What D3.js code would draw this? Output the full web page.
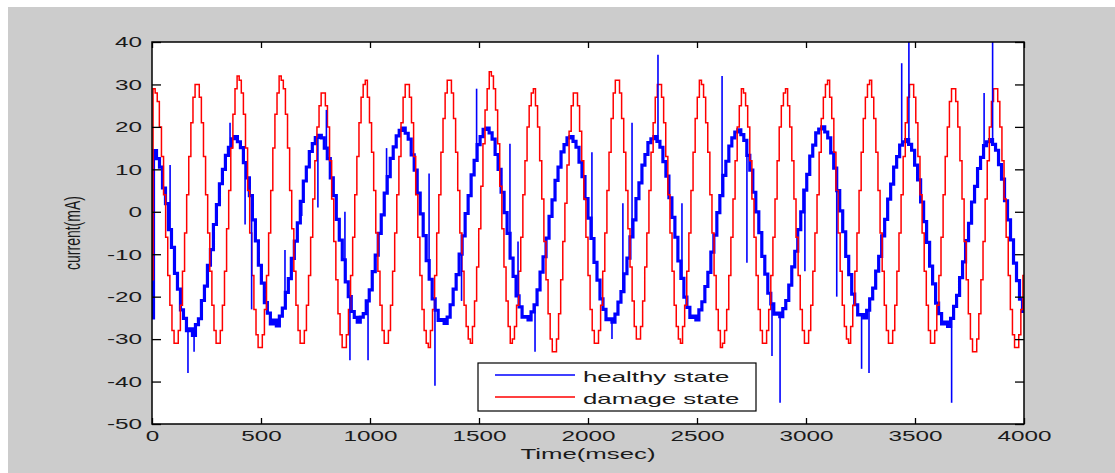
<!DOCTYPE html>
<html><head><meta charset="utf-8">
<script src="https://cdn.jsdelivr.net/npm/d3@7"></script>
<style>html,body{margin:0;padding:0;background:#fff;}svg{display:block;}</style>
</head><body><div id="chart"></div>
<script>
// ---- data ----
const xTicks = [0, 500, 1000, 1500, 2000, 2500, 3000, 3500, 4000];
const yTicks = [-50, -40, -30, -20, -10, 0, 10, 20, 30, 40];
const seriesNames = ["healthy state", "damage state"];

// damage state: stepped samples evenly spread over 0..4000 ms
const damage = [-16, 29,
 28,26,20,13,4,-6,-15,-22,-28,-31, -31,-28,-22,-14,-5,4,13,21,27,30,
 30,27,21,13,4,-5,-14,-22,-28,-31, -31,-28,-22,-14,-4,5,15,23,29,32,
 31,28,23,15,5,-5,-15,-23,-29,-32, -32,-29,-23,-15,-5,5,15,23,28,32,
 31,29,23,15,5,-4,-14,-22,-28,-31, -31,-28,-22,-15,-6,3,12,20,25,28,
 28,25,20,12,3,-7,-16,-24,-29,-32, -32,-29,-23,-15,-6,4,13,21,27,30,
 31,27,21,14,5,-5,-14,-22,-28,-31, -31,-28,-22,-14,-5,4,13,21,27,30,
 30,27,21,13,4,-6,-15,-23,-28,-31, -32,-28,-23,-15,-5,4,14,22,28,31,
 31,28,22,14,5,-5,-14,-22,-27,-30, -31,-27,-21,-13,-4,6,16,24,29,33,
 32,29,24,16,6,-4,-13,-21,-27,-31, -30,-27,-22,-14,-6,4,12,20,25,28,
 29,25,20,12,3,-7,-16,-24,-30,-33, -33,-30,-24,-16,-7,2,11,19,25,28,
 28,25,19,12,3,-6,-15,-23,-28,-31, -31,-28,-22,-14,-5,5,14,22,28,31,
 31,28,22,14,5,-4,-13,-21,-27,-30, -30,-27,-21,-13,-5,5,14,21,27,30,
 30,27,21,13,4,-5,-14,-22,-27,-30, -31,-27,-22,-14,-5,5,14,22,27,31,
 30,27,21,14,4,-5,-15,-23,-28,-32, -31,-28,-23,-15,-6,3,12,20,25,29,
 28,25,20,12,3,-6,-15,-23,-28,-31, -31,-28,-23,-15,-6,3,12,20,25,28,
 29,25,20,12,3,-6,-15,-23,-28,-31, -31,-28,-22,-14,-5,4,14,22,27,30,
 31,27,22,14,5,-5,-14,-22,-27,-30, -31,-27,-22,-14,-5,5,14,22,27,30,
 31,27,22,14,5,-5,-14,-22,-28,-31, -31,-28,-22,-14,-5,4,13,21,27,30,
 30,27,21,13,4,-5,-14,-22,-28,-31, -31,-28,-22,-15,-6,4,13,20,26,29,
 29,26,20,12,3,-7,-16,-24,-30,-33, -33,-30,-24,-16,-7,3,12,20,26,29,
 29,26,20,12,3,-6,-15,-23,-29,-32, -32,-29,-23,-15];

// healthy state: base curve, samples evenly spread over 0..4000 ms
const healthy = [-25,
 14.4,12.5,10.5,5.6,1.9,-4.2,-8.4,-14.5,-18.2,-23.1,-25.1,-28,-27.6,-29.1,-26.6,-25.2,-20.9,-17.5,-12.6,-8.9,-3,1.7,6.6,10,13.3,15.2,17.2,
 17.7,16.5,15.1,11.6,8,3.8,-1.9,-6.85,-12.6,-16.8,-21.4,-23.9,-26.4,-25.5,-26.9,-24.6,-22.7,-19,-15.75,-11,-6.9,-2.6,2.45,7.25,10.55,14.2,16.05,17.5,
 18,17.4,15,12.5,8,3.8,-1.8,-6.7,-11.3,-16.5,-20,-23.5,-24.9,-26,-24.8,-24,-21,-18.4,-14.1,-10.2,-5.1,-0.75,4.4,8.3,12.6,15.3,17.9,19.2,
 19.7,18.5,17.1,13.4,9.8,4.4,-0.5,-5.6,-11.5,-15.9,-20.5,-23.2,-25.6,-25.4,-26.3,-24.8,-21.9,-18.2,-14.8,-10,-5.7,-0.4,3.8,8.7,12.1,15.8,17.7,19.4,
 19.7,18.6,17.1,13.5,10,4.6,-0.2,-5.1,-10.9,-15.2,-19.8,-22.4,-24.8,-24.7,-25.5,-23.6,-21.9,-18.4,-14.2,-10.6,-6.2,-1.1,2.8,7.4,10.5,14.1,15.8,17.4,
 17.7,16.6,15.2,11.7,8.3,3.1,-1.5,-6.3,-11.9,-16.1,-20.5,-23,-25.4,-25.2,-26,-24.1,-21.3,-18.8,-14.6,-10.9,-5.9,-1.9,3.1,6.8,11,13.5,16.3,17.2,
 17.7,16.6,15.2,11.8,8.4,3.3,-1.3,-6,-11.6,-15.7,-20.1,-22.5,-24.9,-24.6,-25.5,-23.1,-21.2,-17.6,-14.3,-9.5,-5.5,-0.2,3.8,8.6,11.9,15.5,17.4,18.8,
 19.3,18.2,16.8,13.3,9.8,4.6,0,-4.9,-10.5,-14.7,-19.2,-21.7,-24.1,-23.9,-24.7,-22.8,-20.9,-17.3,-13,-9.3,-4.2,0,5.1,8.8,13.1,15.7,18.6,19.5,
 20,18.8,17.4,13.9,10.3,5,0.2,-4.7,-10.5,-14.8,-19.4,-21.9,-24.3,-24.2,-25,-23.2,-20.5,-18,-14,-10.5,-5.7,-1.8,3,6.5,10.5,13,15.7,16.5,
 17,15.9,14.5,11,7.5,2.3,-2.3,-7.2,-12.8,-17,-21.5,-24,-26.4,-26,-27,-25.1,-22.3,-19.7,-15.5,-11.8,-6.8,-2.7,2.3,6,10.2,12.8,15.6,16.5,
 17,15.9,14.5,11.1,7.7,2.6,-1.9,-6.6,-12.1,-16.2,-20.6,-23.5];

// healthy state: isolated spikes (time in ms, value in mA)
const spikeTimes  = [83,165,193,358,427,457,610,687,761,800,885,908,991,1076,1271,1298,1420,1489,1642,1679,1757,2018,2110,2160,2202,2321,2431,2615,2729,2844,2881,2995,3141,3255,3289,3439,3472,3668,3817,3856];
const spikeValues = [11,-38,-33,21,-3,-23,-9,-1,1,24,0,-35,-35,15,9,-41,-21,29,16,-7,-33,14,-30,2,21,37,2,32,-12,-34,-45,-14,-20,-37,-38,35,42,-45,28,42];

// ---- layout ----
const W = 1115, H = 473;
const L = 152, R = 1024, T = 42, B = 424;
const FONT = "'Liberation Sans', Arial, sans-serif";
const SX_NUM = 1.62, SX_TXT = 1.72;

const svg = d3.select("#chart").append("svg").attr("width", W).attr("height", H);
svg.append("rect").attr("x", 0).attr("y", 0).attr("width", W).attr("height", H).attr("fill", "#ffffff");
svg.append("rect").attr("x", 8).attr("y", 7).attr("width", W - 8).attr("height", H - 7).attr("fill", "#cccccc");
svg.append("rect").attr("x", L).attr("y", T).attr("width", R - L).attr("height", B - T).attr("fill", "#ffffff");

const x = d3.scaleLinear().domain([0, 4000]).range([L, R]);
const y = d3.scaleLinear().domain([-50, 40]).range([B, T]);

svg.append("defs").append("clipPath").attr("id", "clip")
  .append("rect").attr("x", L).attr("y", T).attr("width", R - L).attr("height", B - T);

const plot = svg.append("g").attr("clip-path", "url(#clip)");

const hT = healthy.map((d, i) => i * 4000 / (healthy.length - 1));
const dT = damage.map((d, i) => i * 4000 / (damage.length - 1));

const lineH = d3.line().x((d, i) => x(hT[i])).y(d => y(d)).curve(d3.curveStep);
const lineD = d3.line().x((d, i) => x(dT[i])).y(d => y(d)).curve(d3.curveStep);

plot.append("path").datum(healthy).attr("d", lineH)
  .attr("fill", "none").attr("stroke", "#0000ff").attr("stroke-width", 3.2).attr("stroke-linejoin", "miter");

plot.append("path").datum(damage).attr("d", lineD)
  .attr("fill", "none").attr("stroke", "#ff0000").attr("stroke-width", 1.5);

const dtH = 4000 / (healthy.length - 1);
plot.selectAll("line.spike").data(spikeTimes).enter().append("line")
  .attr("class", "spike")
  .attr("x1", d => x(d)).attr("x2", d => x(d))
  .attr("y1", d => y(healthy[Math.round(d / dtH)]))
  .attr("y2", (d, i) => y(spikeValues[i]))
  .attr("stroke", "#0000ff").attr("stroke-width", 1.6);

// frame
svg.append("rect").attr("x", L).attr("y", T).attr("width", R - L).attr("height", B - T)
  .attr("fill", "none").attr("stroke", "#000").attr("stroke-width", 1.5);

const fmt = d => String(d);
function styleAxis(g) {
  g.select(".domain").remove();
  g.selectAll(".tick line").attr("stroke", "#000").attr("stroke-width", 1.3);
  g.selectAll("text").attr("font-family", FONT).attr("font-size", 15).attr("fill", "#1a1a1a");
}
const gl = svg.append("g").attr("transform", `translate(${L},0)`)
  .call(d3.axisLeft(y).tickValues(yTicks).tickFormat(fmt).tickSize(-9).tickPadding(0));
styleAxis(gl);
gl.selectAll("text").attr("x", 0).attr("transform", `translate(-10,0) scale(${SX_NUM},1)`);

const gr = svg.append("g").attr("transform", `translate(${R},0)`)
  .call(d3.axisRight(y).tickValues(yTicks).tickFormat("").tickSize(-9));
styleAxis(gr);

const gb = svg.append("g").attr("transform", `translate(0,${B})`)
  .call(d3.axisBottom(x).tickValues(xTicks).tickFormat(fmt).tickSize(-6).tickPadding(6));
styleAxis(gb);
gb.selectAll("text").attr("transform", `scale(${SX_NUM},1)`);

const gt = svg.append("g").attr("transform", `translate(0,${T})`)
  .call(d3.axisTop(x).tickValues(xTicks).tickFormat("").tickSize(-6));
styleAxis(gt);

// axis titles
svg.append("text").attr("transform", `translate(${(L + R) / 2},459) scale(${SX_TXT},1)`)
  .attr("text-anchor", "middle").attr("font-family", FONT).attr("font-size", 15).attr("fill", "#1a1a1a")
  .text("Time(msec)");
svg.append("text").attr("transform", `translate(80,${(T + B) / 2}) scale(1.6,1) rotate(-90)`)
  .attr("text-anchor", "middle").attr("font-family", FONT).attr("font-size", 14).attr("fill", "#1a1a1a")
  .text("current(mA)");

// legend
const lg = svg.append("g");
lg.append("rect").attr("x", 478).attr("y", 363).attr("width", 278).attr("height", 48)
  .attr("fill", "#fff").attr("stroke", "#000").attr("stroke-width", 1.2);
const legendColors = ["#0000ff", "#ff0000"];
seriesNames.forEach((name, i) => {
  const yy = 375 + i * 22;
  lg.append("line").attr("x1", 495).attr("x2", 575).attr("y1", yy).attr("y2", yy)
    .attr("stroke", legendColors[i]).attr("stroke-width", 1.3);
  lg.append("text").attr("transform", `translate(583,${yy + 7}) scale(${SX_TXT},1)`)
    .attr("font-family", FONT).attr("font-size", 15).attr("fill", "#1a1a1a").text(name);
});
</script></body></html>
